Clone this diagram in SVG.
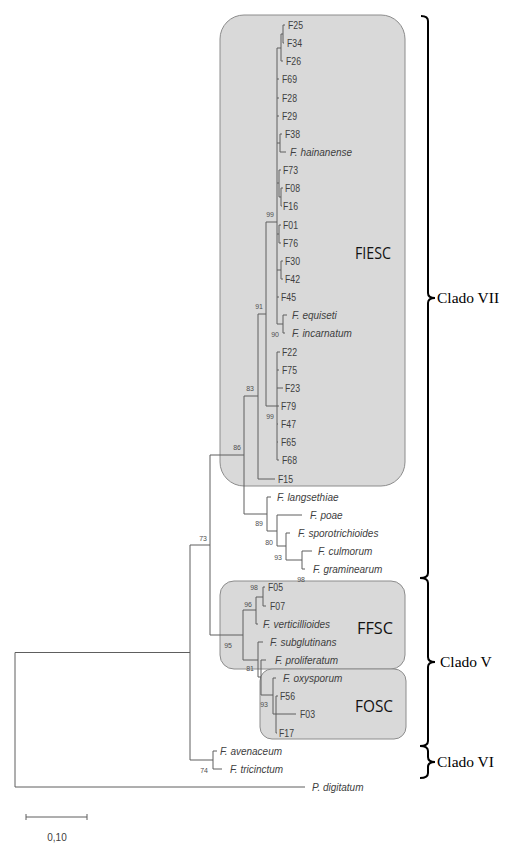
<svg xmlns="http://www.w3.org/2000/svg" width="528" height="852" viewBox="0 0 528 852">
<style>
.box{fill:#d9d9d9;stroke:#8c8c8c;stroke-width:1}
.br{fill:none;stroke:#5e5e5e;stroke-width:1}
.sp{font-family:"Liberation Sans",Arial,sans-serif;font-style:italic;font-size:10px;fill:#404040}
.id{font-family:"Liberation Sans",Arial,sans-serif;font-size:11px;fill:#404040}
.bs{font-family:"Liberation Sans",Arial,sans-serif;font-size:7px;fill:#505050;text-anchor:end}
.grp{font-family:"Open Sans","Liberation Sans",sans-serif;font-size:16px;fill:#111}
.brace{fill:none;stroke:#000;stroke-width:2}
.cl{font-family:"Liberation Serif","Times New Roman",serif;font-size:15.5px;fill:#000}
</style>
<g id="box-FIESC"><rect class="box" x="220" y="15" width="185" height="471" rx="24"/><text class="grp" x="355" y="259" textLength="36" lengthAdjust="spacingAndGlyphs">FIESC</text></g>
<g id="box-FFSC"><rect class="box" x="220" y="581" width="185" height="88" rx="14"/><text class="grp" x="357" y="634" textLength="36" lengthAdjust="spacingAndGlyphs">FFSC</text></g>
<g id="box-FOSC"><rect class="box" x="260" y="669" width="146" height="70" rx="12"/><text class="grp" x="355" y="712" textLength="38" lengthAdjust="spacingAndGlyphs">FOSC</text></g>
<g id="connectors">
<path class="br" d="M15,652.5V787 M15,652.5H190 M15,787H305
M190,545V760 M190,545H210 M190,760H213 M213,751V769 M213,751H217 M213,769H222
M210,455V635 M210,455H244 M210,635H243
M244,396V514 M244,396H258 M258,314V479 M258,479H275 M258,314H266 M266,222V406 M266,222H277 M266,406H277
M277,48V324 M277,48H281 M281,34V61 M281,61H283 M281,34H283 M283,25V43 M283,25H285 M283,43H284
M277,79H279 M277,98H279 M277,116H279
M277,143H280 M280,134V152 M280,134H282 M280,152H286
M277,183H279 M279,170V197 M279,170H281 M279,197H281 M281,188V206 M281,188H283 M281,206H282
M277,234H279 M279,225V243 M279,225H281 M279,243H281
M277,270H281 M281,261V279 M281,261H283 M281,279H283
M277,297H279
M277,324H283 M283,315V333 M283,315H287 M283,333H285
M277,352V460 M277,352H280 M277,370H279 M277,388H283 M277,406H279 M277,424H278 M277,442H278 M277,460H279
M244,514H267 M267,497V531 M267,497H271 M267,531H277 M277,515V546 M277,515H302 M277,546H286 M286,533V560 M286,533H290 M286,560H302 M302,551V569 M302,551H312 M302,569H305
M243,610V660 M243,610H256 M256,597V624 M256,624H258 M256,597H263 M263,587V606 M263,587H265 M263,606H266
M243,660H258 M258,642V677 M258,642H263 M258,677H261 M261,660V695 M261,660H266 M261,695H273 M273,678V714 M273,678H276 M273,714H276 M276,696V733 M276,696H278 M276,714H296 M276,733H277"/>
<path class="br" d="M26,817H87 M26,814V820 M87,814V820"/>
</g>
<g id="bootstrap">
<text class="bs" x="274" y="217">99</text>
<text class="bs" x="263" y="309">91</text>
<text class="bs" x="274" y="419">99</text>
<text class="bs" x="254" y="391">83</text>
<text class="bs" x="241" y="450">86</text>
<text class="bs" x="279" y="337">90</text>
<text class="bs" x="263" y="526">89</text>
<text class="bs" x="273" y="545">80</text>
<text class="bs" x="282" y="560">93</text>
<text class="bs" x="305" y="582">98</text>
<text class="bs" x="207" y="541">73</text>
<text class="bs" x="258" y="590">98</text>
<text class="bs" x="252" y="607">96</text>
<text class="bs" x="232" y="648">95</text>
<text class="bs" x="254" y="671">81</text>
<text class="bs" x="268" y="707">93</text>
<text class="bs" x="208" y="773">74</text>
</g>
<g id="leaves">
<text class="id" x="288" y="29" textLength="15" lengthAdjust="spacingAndGlyphs">F25</text>
<text class="id" x="287" y="47" textLength="15" lengthAdjust="spacingAndGlyphs">F34</text>
<text class="id" x="286" y="65" textLength="15" lengthAdjust="spacingAndGlyphs">F26</text>
<text class="id" x="282" y="83" textLength="15" lengthAdjust="spacingAndGlyphs">F69</text>
<text class="id" x="282" y="102" textLength="15" lengthAdjust="spacingAndGlyphs">F28</text>
<text class="id" x="282" y="120" textLength="15" lengthAdjust="spacingAndGlyphs">F29</text>
<text class="id" x="285" y="138" textLength="15" lengthAdjust="spacingAndGlyphs">F38</text>
<text class="sp" x="290" y="156">F. hainanense</text>
<text class="id" x="283" y="174" textLength="15" lengthAdjust="spacingAndGlyphs">F73</text>
<text class="id" x="285" y="192" textLength="15" lengthAdjust="spacingAndGlyphs">F08</text>
<text class="id" x="283" y="210" textLength="15" lengthAdjust="spacingAndGlyphs">F16</text>
<text class="id" x="283" y="229" textLength="15" lengthAdjust="spacingAndGlyphs">F01</text>
<text class="id" x="283" y="247" textLength="15" lengthAdjust="spacingAndGlyphs">F76</text>
<text class="id" x="285" y="265" textLength="15" lengthAdjust="spacingAndGlyphs">F30</text>
<text class="id" x="285" y="283" textLength="15" lengthAdjust="spacingAndGlyphs">F42</text>
<text class="id" x="281" y="301" textLength="15" lengthAdjust="spacingAndGlyphs">F45</text>
<text class="sp" x="292" y="319">F. equiseti</text>
<text class="sp" x="292" y="337">F. incarnatum</text>
<text class="id" x="282" y="356" textLength="15" lengthAdjust="spacingAndGlyphs">F22</text>
<text class="id" x="282" y="374" textLength="15" lengthAdjust="spacingAndGlyphs">F75</text>
<text class="id" x="285" y="392" textLength="15" lengthAdjust="spacingAndGlyphs">F23</text>
<text class="id" x="281" y="410" textLength="15" lengthAdjust="spacingAndGlyphs">F79</text>
<text class="id" x="281" y="428" textLength="15" lengthAdjust="spacingAndGlyphs">F47</text>
<text class="id" x="281" y="446" textLength="15" lengthAdjust="spacingAndGlyphs">F65</text>
<text class="id" x="282" y="464" textLength="15" lengthAdjust="spacingAndGlyphs">F68</text>
<text class="id" x="278" y="483" textLength="15" lengthAdjust="spacingAndGlyphs">F15</text>
<text class="sp" x="277" y="501">F. langsethiae</text>
<text class="sp" x="310" y="519">F. poae</text>
<text class="sp" x="298" y="537">F. sporotrichioides</text>
<text class="sp" x="318" y="555">F. culmorum</text>
<text class="sp" x="313" y="573">F. graminearum</text>
<text class="id" x="268" y="591" textLength="15" lengthAdjust="spacingAndGlyphs">F05</text>
<text class="id" x="270" y="610" textLength="15" lengthAdjust="spacingAndGlyphs">F07</text>
<text class="sp" x="263" y="628">F. verticillioides</text>
<text class="sp" x="270" y="646">F. subglutinans</text>
<text class="sp" x="275" y="664">F. proliferatum</text>
<text class="sp" x="283" y="682">F. oxysporum</text>
<text class="id" x="280" y="700" textLength="15" lengthAdjust="spacingAndGlyphs">F56</text>
<text class="id" x="300" y="718" textLength="15" lengthAdjust="spacingAndGlyphs">F03</text>
<text class="id" x="279" y="737" textLength="15" lengthAdjust="spacingAndGlyphs">F17</text>
<text class="sp" x="220" y="755">F. avenaceum</text>
<text class="sp" x="230" y="773">F. tricinctum</text>
<text class="sp" x="312" y="791">P. digitatum</text>
<text class="id" x="57" y="841" text-anchor="middle" style="font-size:10px">0,10</text>
</g>
<g id="clades">
<path class="brace" d="M421,16 Q428,16 428,21 V293 Q428,298 435,298 Q428,298 428,303 V573 Q428,578 420,578"/>
<path class="brace" d="M420,578 Q428,578 428,583 V657 Q428,662 435,662 Q428,662 428,667 V741 Q428,746 420,746"/>
<path class="brace" d="M420,746 Q428,746 428,751 V757 Q428,762 435,762 Q428,762 428,767 V773 Q428,778 420,778"/>
<text class="cl" x="437" y="303">Clado VII</text>
<text class="cl" x="440" y="667">Clado V</text>
<text class="cl" x="437" y="767">Clado VI</text>
</g>
</svg>
